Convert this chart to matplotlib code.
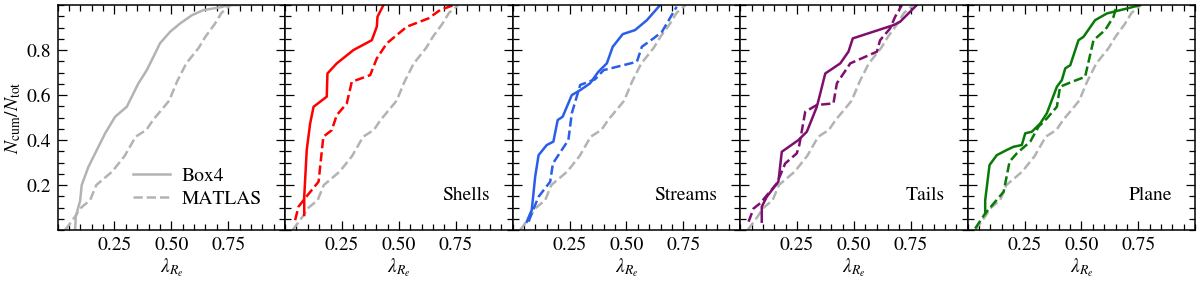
import matplotlib
matplotlib.use("Agg")
import matplotlib.pyplot as plt
from matplotlib.ticker import MultipleLocator

plt.rcParams['font.family'] = ['STIXGeneral', 'DejaVu Serif']
plt.rcParams['mathtext.fontset'] = 'stix'
plt.rcParams['font.size'] = 14

# MATLAS, full sample (grey dashed, shown in every panel)
matlas_x = [0.033, 0.077, 0.099, 0.143, 0.170, 0.240, 0.295, 0.343, 0.390, 0.420,
            0.450, 0.490, 0.525, 0.565, 0.620, 0.650, 0.690, 0.720, 0.760]
matlas_y = [0.0, 0.06, 0.096, 0.133, 0.20, 0.26, 0.33, 0.415, 0.445, 0.49,
            0.526, 0.575, 0.66, 0.74, 0.81, 0.86, 0.915, 0.965, 1.0]

# Box4, full sample (grey solid, first panel only)
box4_x = [0.077, 0.080, 0.099, 0.106, 0.135, 0.172, 0.209, 0.253, 0.304, 0.333,
          0.355, 0.392, 0.421, 0.450, 0.494, 0.538, 0.590, 0.641, 0.714, 0.750, 0.80]
box4_y = [0.0, 0.06, 0.13, 0.20, 0.28, 0.355, 0.43, 0.504, 0.548, 0.607,
          0.652, 0.711, 0.77, 0.83, 0.881, 0.918, 0.955, 0.978, 0.99, 1.0, 1.0]

panel_names = ['Shells', 'Streams', 'Tails', 'Plane']
panel_colors = ['#ff0000', '#2a5ee8', '#7f0f6e', '#087a08']

# Box4 subsets (solid)
box4_sub_x = [
    [0.084, 0.084, 0.095, 0.110, 0.125, 0.183, 0.186, 0.227, 0.300, 0.381, 0.403, 0.406, 0.432],
    [0.062, 0.084, 0.099, 0.114, 0.150, 0.179, 0.198, 0.220, 0.260, 0.297, 0.340, 0.377,
     0.414, 0.440, 0.484, 0.538, 0.590, 0.648],
    [0.095, 0.095, 0.117, 0.168, 0.183, 0.256, 0.293, 0.337, 0.352, 0.374, 0.440, 0.476,
     0.495, 0.674, 0.703, 0.776],
    [0.077, 0.077, 0.096, 0.128, 0.172, 0.201, 0.238, 0.253, 0.282, 0.319, 0.348, 0.370,
     0.392, 0.414, 0.429, 0.451, 0.487, 0.509, 0.560, 0.612, 0.700, 0.758],
]
box4_sub_y = [
    [0.067, 0.148, 0.356, 0.474, 0.548, 0.593, 0.696, 0.741, 0.80, 0.844, 0.904, 0.948, 1.0],
    [0.037, 0.089, 0.237, 0.333, 0.378, 0.393, 0.489, 0.504, 0.60, 0.622, 0.652, 0.704,
     0.741, 0.815, 0.871, 0.889, 0.933, 1.0],
    [0.037, 0.104, 0.148, 0.215, 0.348, 0.40, 0.437, 0.548, 0.607, 0.696, 0.741, 0.793,
     0.852, 0.911, 0.926, 1.0],
    [0.074, 0.133, 0.289, 0.333, 0.356, 0.37, 0.378, 0.43, 0.437, 0.474, 0.519, 0.578,
     0.637, 0.667, 0.719, 0.733, 0.844, 0.859, 0.933, 0.963, 0.985, 1.0],
]

# MATLAS subsets (dashed)
matlas_sub_x = [
    [0.044, 0.059, 0.081, 0.147, 0.168, 0.205, 0.227, 0.271, 0.293, 0.374, 0.403, 0.447,
     0.535, 0.630, 0.681, 0.740],
    [0.070, 0.090, 0.114, 0.165, 0.177, 0.216, 0.245, 0.260, 0.297, 0.362, 0.400, 0.546,
     0.568, 0.619, 0.656, 0.721],
    [0.037, 0.059, 0.088, 0.161, 0.198, 0.249, 0.260, 0.286, 0.337, 0.410, 0.425, 0.484,
     0.601, 0.615, 0.659, 0.681, 0.711],
    [0.033, 0.077, 0.158, 0.184, 0.216, 0.275, 0.311, 0.348, 0.392, 0.406, 0.458, 0.516,
     0.553, 0.604, 0.641, 0.655],
]
matlas_sub_y = [
    [0.044, 0.104, 0.133, 0.215, 0.415, 0.444, 0.511, 0.563, 0.659, 0.689, 0.763, 0.83,
     0.904, 0.941, 0.978, 1.0],
    [0.037, 0.09, 0.148, 0.215, 0.296, 0.356, 0.40, 0.519, 0.645, 0.67, 0.711, 0.748,
     0.815, 0.852, 0.881, 0.993],
    [0.037, 0.096, 0.119, 0.207, 0.296, 0.341, 0.378, 0.526, 0.556, 0.563, 0.652, 0.741,
     0.793, 0.844, 0.896, 0.948, 1.0],
    [0.007, 0.074, 0.17, 0.304, 0.341, 0.393, 0.459, 0.496, 0.548, 0.637, 0.659, 0.681,
     0.844, 0.889, 0.948, 1.0],
]

grey = '#b3b3b3'
lw = 1.8

fig, axes = plt.subplots(1, 5, figsize=(12, 2.84), dpi=100, sharey=True)
fig.subplots_adjust(left=0.048, right=0.996, top=0.982, bottom=0.19, wspace=0)

for ax in axes:
    ax.plot(matlas_x, matlas_y, color=grey, ls='--', lw=lw, label='MATLAS')
    ax.set_xlim(0, 1)
    ax.set_ylim(0, 1)
    ax.set_xticks([0.25, 0.5, 0.75])
    ax.set_yticks([0.2, 0.4, 0.6, 0.8])
    ax.xaxis.set_minor_locator(MultipleLocator(0.05))
    ax.yaxis.set_minor_locator(MultipleLocator(0.05))
    ax.tick_params(which='both', direction='in', top=True, right=True, width=0.9)
    ax.tick_params(which='major', length=6.5, pad=5)
    ax.tick_params(which='minor', length=4)
    for s in ax.spines.values():
        s.set_linewidth(1.1)
    ax.set_xlabel(r'$\lambda_{R_e}$', labelpad=2)

axes[0].plot(box4_x, box4_y, color=grey, ls='-', lw=lw, label='Box4')
handles, labels = axes[0].get_legend_handles_labels()
axes[0].legend(handles[::-1], labels[::-1], loc='lower right', frameon=False,
               bbox_to_anchor=(0.975, 0.02), labelspacing=0.3, handlelength=1.9,
               handletextpad=0.6)
axes[0].set_ylabel(r'$N_{\rm cum}/N_{\rm tot}$', labelpad=2)

for i, ax in enumerate(axes[1:]):
    ax.plot(box4_sub_x[i], box4_sub_y[i], color=panel_colors[i], ls='-', lw=lw)
    ax.plot(matlas_sub_x[i], matlas_sub_y[i], color=panel_colors[i], ls='--', lw=lw)
    ax.text(0.9, 0.155, panel_names[i], transform=ax.transAxes, ha='right', va='center')
    ax.tick_params(labelleft=False)

fig.savefig('out.png', dpi=100)
